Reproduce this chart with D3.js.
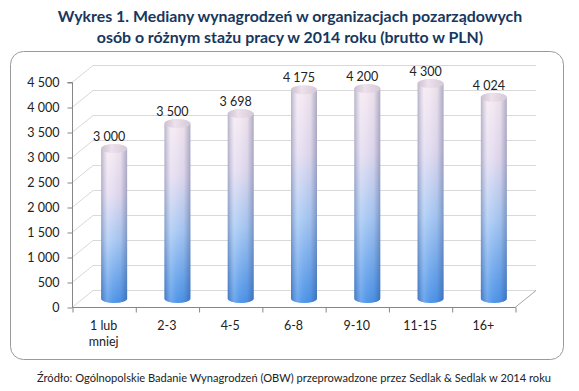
<!DOCTYPE html>
<html><head><meta charset="utf-8">
<script src="https://cdn.jsdelivr.net/npm/d3@7"></script>
<style>body{margin:0;background:#fff}svg{display:block}</style>
</head><body>
<script>
const titleLines = ["Wykres 1. Mediany wynagrodzeń w organizacjach pozarządowych", "osób o różnym stażu pracy w 2014 roku (brutto w PLN)"];
const categories = [["1 lub","mniej"],["2-3"],["4-5"],["6-8"],["9-10"],["11-15"],["16+"]];
const values = [3000, 3500, 3698, 4175, 4200, 4300, 4024];
const valueLabels = ["3 000","3 500","3 698","4 175","4 200","4 300","4 024"];
const yTicks = [0,500,1000,1500,2000,2500,3000,3500,4000,4500];
const yTickLabels = ["0","500","1 000","1 500","2 000","2 500","3 000","3 500","4 000","4 500"];
const source = "Źródło: Ogólnopolskie Badanie Wynagrodzeń (OBW) przeprowadzone przez Sedlak & Sedlak w 2014 roku";

const W = 579, H = 391;
const FONT = "Lato, 'Open Sans', sans-serif";
const svg = d3.select("body").append("svg").attr("width", W).attr("height", H);
const defs = svg.append("defs");

const g1 = defs.append("linearGradient").attr("id","vg").attr("x1",0).attr("y1",0).attr("x2",0).attr("y2",1);
[[0,"#f5e9f2"],[0.3,"#e4dcf0"],[0.6,"#a9c9f4"],[1,"#4b93e8"]].forEach(s=>g1.append("stop").attr("offset",s[0]).attr("stop-color",s[1]));
const g2 = defs.append("linearGradient").attr("id","hg").attr("x1",0).attr("y1",0).attr("x2",1).attr("y2",0);
[[0,"#1a2a60",0.28],[0.25,"#ffffff",0.18],[0.45,"#ffffff",0.05],[0.75,"#1a2a60",0.05],[1,"#1a2a60",0.32]].forEach(s=>g2.append("stop").attr("offset",s[0]).attr("stop-color",s[1]).attr("stop-opacity",s[2]));
const g3 = defs.append("linearGradient").attr("id","tg").attr("x1",0).attr("y1",0).attr("x2",1).attr("y2",0);
[[0,"#cdbfd1"],[0.4,"#ece1ec"],[1,"#d6c9d8"]].forEach(s=>g3.append("stop").attr("offset",s[0]).attr("stop-color",s[1]));

// title: same font size on both lines, sized so that line 1 spans ~465px
const titleSel = svg.selectAll("text.title").data(titleLines).enter().append("text")
  .attr("class","title")
  .attr("x", 290).attr("y",(d,i)=>22+i*21).attr("text-anchor","middle")
  .attr("font-family",FONT).attr("font-weight","bold").attr("font-size",16)
  .attr("fill","#17375e").text(d=>d);
const w0 = titleSel.nodes()[0].getComputedTextLength();
const fs = Math.min(17, 16 * 465 / w0);
titleSel.attr("font-size", fs);

// chart box
svg.append("rect").attr("x",10.5).attr("y",51.5).attr("width",553).attr("height",308).attr("rx",13)
  .attr("fill","#fff").attr("stroke","#9a9a9a").attr("stroke-width",1);

const x0 = 72, x1 = 515, yBottom = 307, yTop = 82;
const DX = 21, DY = -17;
const x = d3.scaleBand().domain(d3.range(categories.length)).range([x0, x1]).paddingInner(0).paddingOuter(0);
const y = d3.scaleLinear().domain([0, 4500]).range([yBottom, yTop]);

const grid = svg.append("g").attr("stroke","#d9d9d9").attr("stroke-width",1).attr("fill","none");
yTicks.forEach(t=>{
  const yy = Math.round(y(t))+0.5;
  grid.append("path").attr("d",`M${x0},${yy}L${x0+DX},${yy+DY}L${x1+DX},${yy+DY}`);
});
grid.append("path").attr("d",`M${x1},${yBottom+0.5}L${x1+DX},${yBottom+0.5+DY}`).attr("stroke","#a6a6a6");

// axes
const yAxis = d3.axisLeft(y).tickValues(yTicks).tickFormat((d,i)=>yTickLabels[i]).tickSize(5).tickPadding(8);
const ya = svg.append("g").attr("transform",`translate(${x0+0.5},0.5)`).call(yAxis);
ya.select(".domain").attr("stroke","#868686").attr("d",`M-5,${y(4500)}H0V${y(0)}`);
ya.selectAll(".tick line").attr("stroke","#868686");
ya.selectAll(".tick text").attr("font-family",FONT).attr("font-size",12.5).attr("fill","#222");

const xAxis = d3.axisBottom(d3.scaleLinear().domain([0,categories.length]).range([x0,x1]))
  .tickValues(d3.range(categories.length+1)).tickFormat("").tickSize(5);
const xa = svg.append("g").attr("transform",`translate(0.5,${yBottom+0.5})`).call(xAxis);
xa.select(".domain").attr("stroke","#868686").attr("d",`M${x0},0H${x1}`);
xa.selectAll(".tick line").attr("stroke","#868686");

// x labels
const xl = svg.append("g");
categories.forEach((lines,i)=>{
  const t = xl.append("text").attr("x", x(i)+x.bandwidth()/2).attr("y", 330)
    .attr("text-anchor","middle").attr("font-family",FONT).attr("font-size",12.5).attr("fill","#222");
  lines.forEach((l,j)=>t.append("tspan").attr("x",x(i)+x.bandwidth()/2).attr("dy",j?16:0).text(l));
});

// bars (cylinders)
const r = 13, ry = 4.5;
const bars = svg.append("g");
values.forEach((v,i)=>{
  const cx = x(i)+x.bandwidth()/2 + DX/2;
  const yb = y(0) + DY/2, yt = y(v) + DY/2;
  const body = `M${cx-r},${yt}L${cx-r},${yb}A${r},${ry} 0 0 0 ${cx+r},${yb}L${cx+r},${yt}Z`;
  bars.append("path").attr("d",body).attr("fill","url(#vg)");
  bars.append("path").attr("d",body).attr("fill","url(#hg)");
  bars.append("ellipse").attr("cx",cx).attr("cy",yt).attr("rx",r).attr("ry",ry).attr("fill","url(#tg)");
  bars.append("text").attr("x",cx-5).attr("y",yt-ry-3).attr("text-anchor","middle")
    .attr("font-family",FONT).attr("font-size",12.5).attr("fill","#222").text(valueLabels[i]);
});

// source
svg.append("text").attr("x",294).attr("y",382).attr("text-anchor","middle")
  .attr("font-family",FONT).attr("font-size",11).attr("fill","#222")
  .attr("textLength",514).attr("lengthAdjust","spacingAndGlyphs").text(source);
</script>
</body></html>
